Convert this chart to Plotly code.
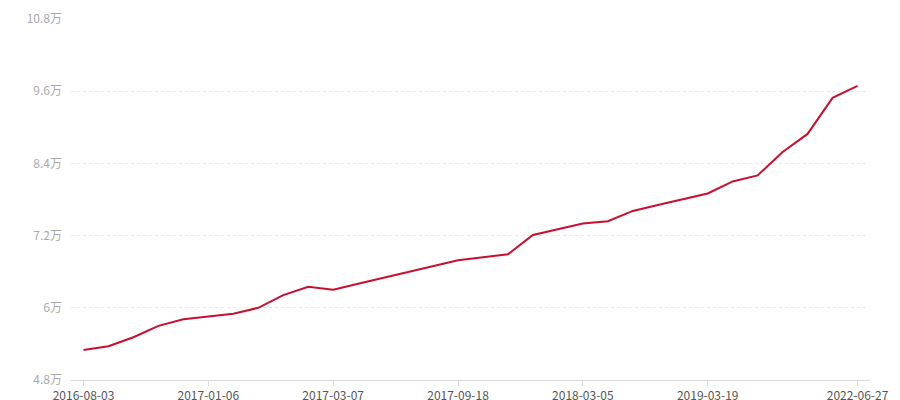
import plotly.graph_objects as go

# values in 万
values = [5.30, 5.36, 5.51, 5.70, 5.81, 5.85, 5.90, 6.00, 6.21, 6.35,
          6.30, 6.40, 6.50, 6.60, 6.70, 6.79, 6.84, 6.89, 7.21, 7.30,
          7.40, 7.44, 7.61, 7.71, 7.80, 7.90, 8.10, 8.20, 8.59, 8.89,
          9.49, 9.69]
x_index = list(range(len(values)))

x_tick_positions = [0, 5, 10, 15, 20, 25, 31]
x_tick_labels = ["2016-08-03", "2017-01-06", "2017-03-07", "2017-09-18",
                 "2018-03-05", "2019-03-19", "2022-06-27"]

y_tick_values = [4.8, 6.0, 7.2, 8.4, 9.6, 10.8]
y_tick_labels = ["4.8万", "6万", "7.2万", "8.4万", "9.6万", "10.8万"]

fig = go.Figure()
fig.add_trace(go.Scatter(
    x=x_index, y=values, mode="lines",
    line=dict(color="#c8102e", width=2),
    hoverinfo="y",
))

font_family = "Noto Sans CJK SC, Noto Sans, sans-serif"

# page body has an 8px margin, so plot-area edges are offset accordingly
fig.update_layout(
    width=900, height=400,
    margin=dict(l=63, r=38, t=11, b=28, autoexpand=False),
    paper_bgcolor="white", plot_bgcolor="white",
    showlegend=False,
    font=dict(family=font_family, size=12, color="#999"),
    xaxis=dict(
        range=[-0.5, 31.5], automargin=False,
        tickmode="array", tickvals=x_tick_positions, ticktext=x_tick_labels,
        showgrid=False, zeroline=False,
        showline=True, linecolor="#d9d9d9", linewidth=1,
        ticks="outside", ticklen=5, tickcolor="#d9d9d9",
        tickfont=dict(color="#555", size=12, family=font_family),
        fixedrange=True,
    ),
    yaxis=dict(
        range=[4.8, 10.8], automargin=False,
        tickmode="array", tickvals=y_tick_values, ticktext=y_tick_labels,
        showgrid=True, gridcolor="#e8e8e8", griddash="dot", gridwidth=1,
        zeroline=False, showline=False,
        ticks="", ticklabelstandoff=8,
        tickfont=dict(color="#aaa", size=12, family=font_family),
        fixedrange=True,
    ),
)

fig.write_html("out.html")
